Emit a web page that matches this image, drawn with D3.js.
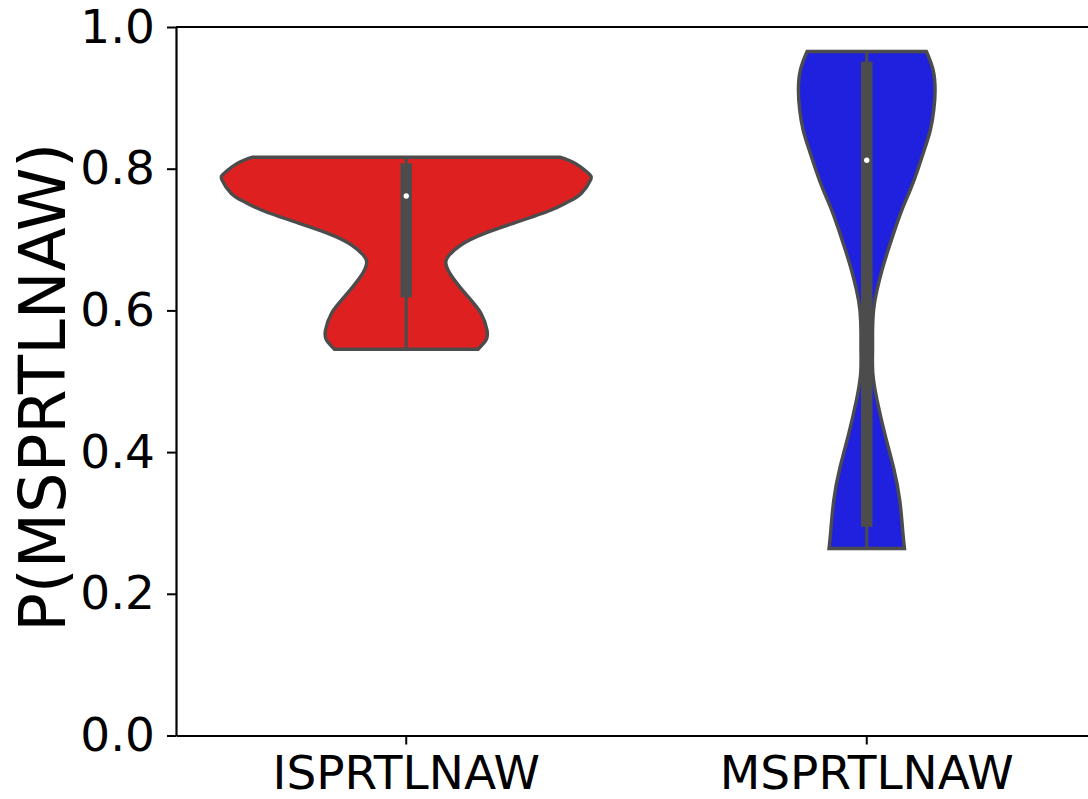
<!DOCTYPE html>
<html>
<head>
<meta charset="utf-8">
<script src="https://cdn.jsdelivr.net/npm/d3@7"></script>
<style>
  body { margin: 0; background: #fff; }
  svg { display: block; font-family: "DejaVu Sans", sans-serif; }
</style>
</head>
<body>
<svg width="1088" height="799"></svg>
<script>
// categories and y ticks
var categories = ["ISPRTLNAW", "MSPRTLNAW"];
var yTicks = [0.0, 0.2, 0.4, 0.6, 0.8, 1.0];

// density profile of each violin (value, density)
var isGrid    = [0.8162, 0.8076, 0.7935, 0.784, 0.765, 0.7534, 0.7417, 0.7252, 0.7088, 0.6923, 0.6758, 0.6665, 0.650, 0.6193, 0.596, 0.5723, 0.558, 0.5451];
var isDensity = [5.82, 6.39, 6.90, 6.98, 6.63, 6.14, 5.49, 4.24, 2.97, 2.07, 1.58, 1.50, 1.69, 2.34, 2.83, 3.06, 3.02, 2.72];

var msGrid    = [0.9654, 0.94, 0.911, 0.8829, 0.8546, 0.8264, 0.7982, 0.77, 0.7417, 0.7135, 0.6852, 0.657, 0.6288, 0.6006, 0.5677, 0.544, 0.5113, 0.4735, 0.4265, 0.379, 0.332, 0.286, 0.264];
var msDensity = [2.26, 2.51, 2.59, 2.54, 2.41, 2.18, 1.93, 1.65, 1.33, 1.06, 0.81, 0.58, 0.39, 0.26, 0.22, 0.22, 0.23, 0.39, 0.68, 1.01, 1.25, 1.37, 1.43];

// inner box stats per category
var whiskerLow  = [0.5451, 0.264];
var quartile1   = [0.6185, 0.2945];
var medians     = [0.7615, 0.812];
var quartile3   = [0.8076, 0.951];
var whiskerHigh = [0.8162, 0.9654];

var fillColors = ["#df2020", "#2020df"];
var gray = "#4c4c4c";

var svg = d3.select("svg"),
  margin = { top: 27, right: -9, bottom: 63.5, left: 176 },
  width  = +svg.attr("width"),
  height = +svg.attr("height");

const innerHeight = height - margin.top - margin.bottom;
const innerWidth  = width - margin.left - margin.right;

const xScale = d3.scaleBand()
  .domain(categories)
  .range([0, innerWidth])
  .padding(0);

const yScale = d3.scaleLinear()
  .domain([0, 1])
  .range([innerHeight, 0]);

var profiles = [
  isGrid.map((v, i) => ({ v: v, d: isDensity[i] })),
  msGrid.map((v, i) => ({ v: v, d: msDensity[i] }))
];

const wScale = d3.scaleLinear()
  .domain([0, d3.max(isDensity.concat(msDensity))])
  .range([0, xScale.bandwidth() * 0.4]);

const g = svg.append("g")
  .attr("transform", "translate(" + margin.left + "," + margin.top + ")");

//--- Violins ----//
categories.forEach((c, i) => {
  var cx = xScale(c) + xScale.bandwidth() / 2;

  var area = d3.area()
    .y(d => yScale(d.v))
    .x0(d => cx - wScale(d.d))
    .x1(d => cx + wScale(d.d))
    .curve(d3.curveNatural);

  g.append("path")
    .datum(profiles[i])
    .attr("d", area)
    .attr("fill", fillColors[i])
    .attr("stroke", gray)
    .attr("stroke-width", 3.4);

  // whisker
  g.append("line")
    .attr("x1", cx).attr("x2", cx)
    .attr("y1", yScale(whiskerLow[i]))
    .attr("y2", yScale(whiskerHigh[i]))
    .attr("stroke", gray)
    .attr("stroke-width", 3.2);

  // box
  g.append("rect")
    .attr("x", cx - 5.75)
    .attr("width", 11.5)
    .attr("y", yScale(quartile3[i]))
    .attr("height", yScale(quartile1[i]) - yScale(quartile3[i]))
    .attr("fill", gray);

  // median
  g.append("circle")
    .attr("cx", cx)
    .attr("cy", yScale(medians[i]))
    .attr("r", 2.7)
    .attr("fill", "#fff");
});

//--- Axes ----//
var yAxis = g.append("g")
  .call(d3.axisLeft(yScale)
    .tickValues(yTicks)
    .tickFormat(d3.format(".1f"))
    .tickSize(9)
    .tickSizeOuter(0)
    .tickPadding(12));

var xAxis = g.append("g")
  .attr("transform", "translate(0," + innerHeight + ")")
  .call(d3.axisBottom(xScale)
    .tickSize(9)
    .tickSizeOuter(0)
    .tickPadding(11));

[yAxis, xAxis].forEach(a => {
  a.select(".domain").attr("stroke", "#000").attr("stroke-width", 2.2);
  a.selectAll(".tick line").attr("stroke", "#000").attr("stroke-width", 2);
  a.selectAll(".tick text")
    .attr("fill", "#000")
    .attr("font-family", "DejaVu Sans")
    .attr("font-size", "47px");
});

// top and right spines
g.append("line")
  .attr("x1", 0).attr("x2", innerWidth)
  .attr("y1", 0).attr("y2", 0)
  .attr("stroke", "#000").attr("stroke-width", 2.2);
g.append("line")
  .attr("x1", innerWidth).attr("x2", innerWidth)
  .attr("y1", 0).attr("y2", innerHeight)
  .attr("stroke", "#000").attr("stroke-width", 2.2);

// y label
svg.append("text")
  .attr("transform", "translate(65," + (margin.top + innerHeight / 2 + 6) + ") rotate(-90)")
  .attr("text-anchor", "middle")
  .attr("font-family", "DejaVu Sans")
  .attr("font-size", "64px")
  .attr("fill", "#000")
  .text("P(MSPRTLNAW)");
</script>
</body>
</html>
